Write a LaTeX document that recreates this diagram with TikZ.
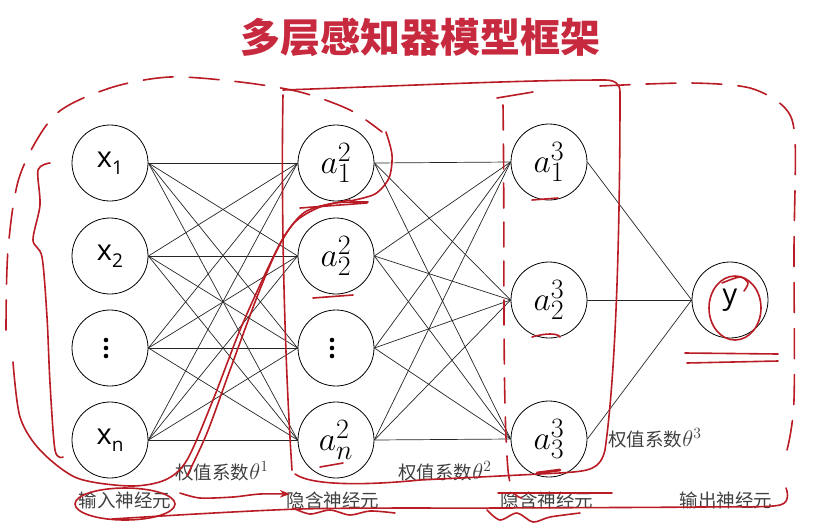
\RequirePackage{fix-cm}
\documentclass[tikz,border=0pt]{standalone}
\usepackage{graphicx}
\usepackage{fontspec}
\newfontfamily\cjk{Noto Sans CJK SC}
\newfontfamily\nodesf{Open Sans}
\usetikzlibrary{arrows.meta}
\definecolor{inkred}{RGB}{185,28,36}
\definecolor{titlered}{RGB}{199,42,62}
\tikzset{
  neuron/.style={draw, circle, line width=0.8pt, minimum size=76pt, inner sep=0pt, font=\nodesf\fontsize{29}{29}\selectfont},
  link/.style={line width=0.7pt, black!85},
  ink/.style={inkred, line width=1.6pt, line cap=round, line join=round},
  ink dashed/.style={ink, dash pattern=on 30pt off 16pt},
  layer label/.style={font=\cjk\fontsize{18.5}{19}\selectfont, text=black!75},
  >=Stealth,
}
\newcommand{\inputname}[1]{x\raisebox{-7pt}{\fontsize{19}{19}\selectfont #1}}
\newcommand{\hiddenname}[2]{{\Huge\scalebox{1.35}{$a^{#1}_{#2}$}}}
\newcommand{\weightname}[1]{权值系数{\LARGE\scalebox{1.3}{$\theta^{#1}$}}}

\begin{document}
\begin{tikzpicture}[x=1pt, y=-1pt]
  \useasboundingbox (0,0) rectangle (819,523);
  \node[font=\cjk\bfseries\fontsize{40}{42}\selectfont, text=titlered] (title) at (420,37) {多层感知器模型框架};

  % input layer
  \node[neuron] (x1) at (110,163) {\inputname{1}};
  \node[neuron] (x2) at (110,256) {\inputname{2}};
  \node[neuron] (x3) at (110,348) {};
  \node[neuron] (x4) at (110,440) {\inputname{n}};
  % hidden layer 2
  \node[neuron] (h1) at (336,163) {\hiddenname{2}{1}};
  \node[neuron] (h2) at (336,256) {\hiddenname{2}{2}};
  \node[neuron] (h3) at (336,348) {};
  \node[neuron] (h4) at (336,440) {\hiddenname{2}{n}};
  % hidden layer 3
  \node[neuron] (o1) at (549,162) {\hiddenname{3}{1}};
  \node[neuron] (o2) at (549,300) {\hiddenname{3}{2}};
  \node[neuron] (o3) at (549,439) {\hiddenname{3}{3}};
  % output
  \node[neuron] (y) at (730,300) {y};

  % vertical dots
  \foreach \n in {x3,h3}
    \foreach \d in {-8,0,8}
      \fill ([xshift=-4pt, yshift=\d pt]\n.center) circle (2.3pt);

  \foreach \i in {1,...,4}
    \foreach \j in {1,...,4}
      \draw[link] (x\i.east) -- (h\j.west);
  \foreach \i in {1,...,4}
    \foreach \j in {1,2,3}
      \draw[link] (h\i.east) -- (o\j.west);
  \foreach \j in {1,2,3}
    \draw[link] (o\j.east) -- (y.west);

  % labels
  \node[layer label] (w1) at (222,471) {\weightname{1}};
  \node[layer label] (w2) at (445,471) {\weightname{2}};
  \node[layer label] (w3) at (655,438) {\weightname{3}};
  \node[layer label] (in) at (125,500) {输入神经元};
  \node[layer label] (hid2) at (333,500) {隐含神经元};
  \node[layer label] (hid3) at (547,500) {隐含神经元};
  \node[layer label] (out) at (726,500) {输出神经元};

  % red ink marks
  \draw[ink dashed] plot[smooth] coordinates {(6,330) (8,250) (20,175) (55,115) (110,88) (170,77) (240,82) (300,92) (350,110) (382,132)};
  \draw[ink] plot[smooth] coordinates {(386,132) (392,155) (389,178) (375,194) (350,201)};
  \draw[ink] plot[smooth] coordinates {(13,362) (20,417) (40,450) (77,478) (130,486) (165,480) (187,460) (213,400) (240,330) (267,270) (285,235) (305,212) (335,203) (368,202)};
  \draw[ink] plot[smooth] coordinates {(187,476) (207,433) (230,370) (257,297) (277,250) (295,222) (320,207) (350,200)};
  \draw[ink] (300,208) -- (367,203);
  \draw[ink] plot[smooth] coordinates {(50,163) (38,170) (40,205) (33,240) (42,257) (47,317) (50,383) (55,450) (63,457)};
  \draw[ink] (125,504) ellipse [x radius=50pt, y radius=16pt];
  \draw[ink] plot[smooth] coordinates {(112,519) (300,509) (500,508) (700,507) (780,505) (786,488)};
  \draw[ink dashed] plot[smooth] coordinates {(600,86) (690,83) (750,88) (785,108) (795,140) (794,250) (794,400) (787,450)};
  \draw[ink] (292,470) .. controls (284,350) and (281,200) .. (283,95);
  \draw[ink] (283,90) .. controls (400,86) and (520,80) .. (605,80) .. controls (615,80) and (620,84) .. (620,92)
    .. controls (620,250) and (615,380) .. (605,450) .. controls (600,470) and (590,471) .. (560,473)
    -- (420,480) .. controls (360,486) and (310,485) .. (295,474);
  \draw[ink] (497,98) -- (533,92);
  \draw[ink, dash pattern=on 25pt off 14pt] (503,105) .. controls (505,250) and (502,400) .. (508,470) .. controls (510,490) and (515,497) .. (522,498);
  \draw[ink] (313,298) -- (353,295);
  \draw[ink] (320,467) -- (343,463);
  \draw[ink] (532,200) -- (558,198);
  \draw[ink] (532,337) .. controls (545,333) and (558,333) .. (560,337);
  \draw[ink, line width=2.8pt] (537,473) -- (560,470);
  \draw[ink] (735,308) ellipse [x radius=26pt, y radius=32pt];
  \draw[ink] plot[smooth] coordinates {(722,283) (740,277) (748,283) (744,291)};
  \draw[ink] (685,353) -- (778,354);
  \draw[ink] (687,363) -- (778,361);
  \draw[ink, ->] plot[smooth] coordinates {(180,493) (200,498) (233,497) (260,494) (290,494)};
  \draw[ink] plot[smooth] coordinates {(293,508) (310,514) (330,510) (350,515) (370,511) (395,513)};
  \draw[ink] plot[smooth] coordinates {(487,510) (500,520) (517,513) (533,522) (550,517) (580,513)};
  \draw[ink] (498,493) -- (612,493);
\end{tikzpicture}
\end{document}
